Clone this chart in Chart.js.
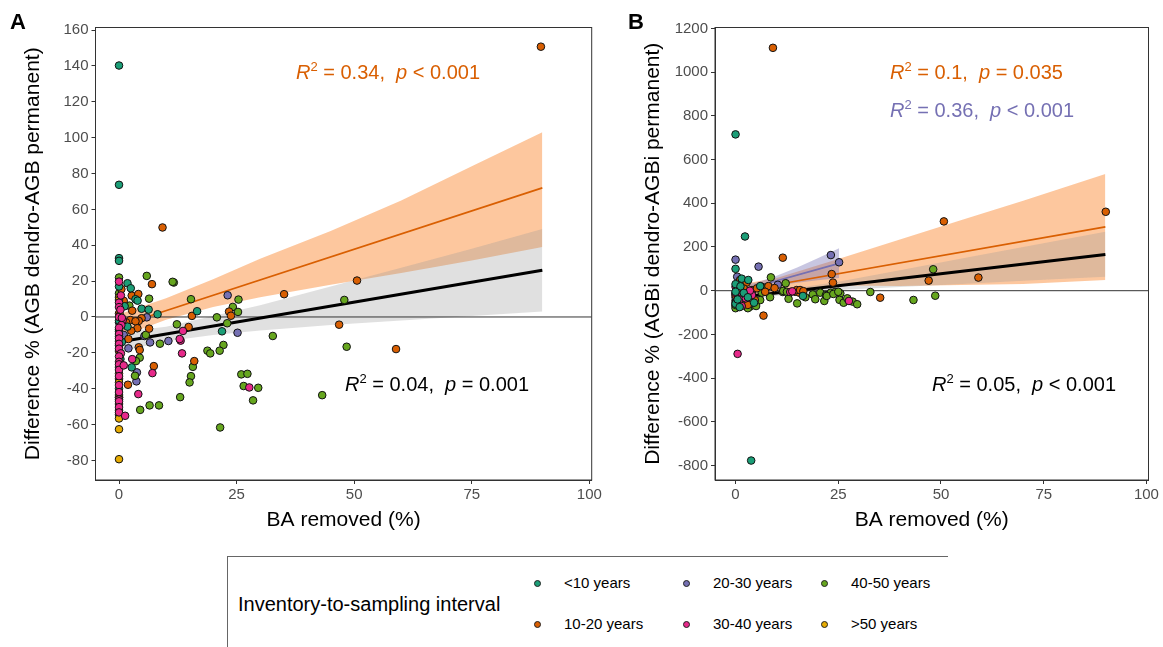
<!DOCTYPE html>
<html>
<head>
<meta charset="utf-8">
<script src="https://cdn.jsdelivr.net/npm/chart.js@4.4.1/dist/chart.umd.min.js"></script>
<style>
  body { margin: 0; background: #fff; width: 1163px; height: 647px; position: relative; overflow: hidden;
         font-family: "Liberation Sans", Arial, sans-serif; }
  canvas { position: absolute; top: 0; }
  .lbl { position: absolute; white-space: nowrap; font-size: 20px; line-height: 24px; }
  .lbl sup { font-size: 13px; vertical-align: 0; position: relative; top: -8px; }
  .tag { position: absolute; font-weight: bold; font-size: 22px; line-height: 22px; }
  #legend { position: absolute; left: 227px; top: 556px; width: 720px; height: 100px;
            border-top: 1px solid #666; border-left: 1px solid #666; }
  #legend .title { position: absolute; left: 10px; top: 35px; font-size: 20px; line-height: 24px; white-space: nowrap; }
  #legend .item { position: absolute; font-size: 15px; line-height: 18px; white-space: nowrap; }
  #legend .dot { position: absolute; width: 5px; height: 5px; border-radius: 50%; border: 1px solid #222; }
</style>
</head>
<body>
<canvas id="cA" width="620" height="545" style="left:0"></canvas>
<canvas id="cB" width="543" height="545" style="left:620px"></canvas>

<div class="tag" style="left:10px;top:11px">A</div>
<div class="tag" style="left:628px;top:11px">B</div>

<div class="lbl" style="left:296px;top:60px;color:#D95F02"><i>R</i><sup>2</sup> = 0.34,&nbsp; <i>p</i> &lt; 0.001</div>
<div class="lbl" style="left:345px;top:372px;color:#000"><i>R</i><sup>2</sup> = 0.04,&nbsp; <i>p</i> = 0.001</div>
<div class="lbl" style="left:890px;top:60px;color:#D95F02"><i>R</i><sup>2</sup> = 0.1,&nbsp; <i>p</i> = 0.035</div>
<div class="lbl" style="left:890px;top:98px;color:#7570B3"><i>R</i><sup>2</sup> = 0.36,&nbsp; <i>p</i> &lt; 0.001</div>
<div class="lbl" style="left:932px;top:372px;color:#000"><i>R</i><sup>2</sup> = 0.05,&nbsp; <i>p</i> &lt; 0.001</div>

<div id="legend"><div class="title">Inventory-to-sampling interval</div></div>

<script>
/* categories */
const groups = ["<10 years", "10-20 years", "20-30 years", "30-40 years", "40-50 years", ">50 years"];
const groupColors = ["#1B9E77", "#D95F02", "#7570B3", "#E7298A", "#66A61E", "#E6AB02"];

/* axes */
const xTicks = [0, 25, 50, 75, 100];
const yTicksA = [-80, -60, -40, -20, 0, 20, 40, 60, 80, 100, 120, 140, 160];
const yTicksB = [-800, -600, -400, -200, 0, 200, 400, 600, 800, 1000, 1200];
const X_MIN = -5, X_MAX = 100.5;

/* panel A points: [BA removed, difference %] */
const aLt10 = [[0,140.2],[0,73.7],[0,32.8],[0,31.3],[1.8,18.8],[2.5,16],[0,17],[3.5,9.9],[3.95,9.1],[4.8,4.6],
  [6.3,4.1],[8.2,1.5],[16.6,3.2],[21.9,-8],[1.8,-5.4],[0,-2],[0,-8],[0,-11],[0.3,-23.5],[2.7,-28.1],[0,-40],[1.2,6],[0.6,-14]];
const a10to20 = [[9.25,49.9],[7,18.3],[35.1,12.7],[23.4,3],[23.8,0.7],[15.5,0.6],[14.8,-5.6],[16,-24.6],[7.4,-27.4],
  [50.6,20.3],[46.8,-4.3],[58.9,-17.9],[89.7,150.7],[0.5,15.5],[2.7,11.9],[4.1,12.8],[2.8,3.5],[4.8,-0.7],[4.2,-2.2],
  [2.4,-1.7],[3.5,-2.4],[3.9,-6.3],[2.6,-7.7],[6.4,-6.5],[2,-12.3],[4.2,-16.9],[4.4,-18.4],[1.9,-37.8],[0,2],[0,-7],
  [0,-19],[0,-34.5],[0,-48.5],[1,9],[1.5,-3]];
const a20to30 = [[23.1,12.1],[25.2,-8.8],[6.6,-14.2],[10.5,-13.4],[3.8,-30.9],[3.7,-35.9],[5.9,-0.2],[5.4,-10.6],
  [2,-17.5],[0,-3],[0,-16],[0,-28],[0,-44.7],[1,-10]];
const a30to40 = [[13.6,-7.8],[13.1,-13.2],[13.4,-20.3],[7.1,-31.3],[27.7,-39.3],[4.1,-43],[0,19.7],[0,8],[0,5.5],
  [0.3,4],[0,0],[0.8,-1.7],[0.5,-4.5],[0,-6],[0,-9.5],[0,-12],[0,-15],[0,-17.7],[0.4,-20.3],[0,-22],[0,-25],[0,-26.4],
  [0,-29.5],[0,-33],[2.8,-23.5],[0,-38],[0,-41.9],[0,-46],[0,-47],[0,-50.3],[0,-53.2],[1.3,-55.1],[0.6,-0.5],[0.4,12],
  [12.9,-12.3],[1,-27]];
const a40to50 = [[5.9,22.9],[11.65,19.2],[11.4,19.6],[6.4,10.2],[15.3,9.9],[25.4,9.7],[24.2,5.6],[25.3,2.8],[20.8,-0.2],
  [23,-3.5],[12.3,-4.1],[32.7,-10.6],[5.7,-10],[8.7,-14.9],[22.2,-15.6],[21.4,-18.8],[18.8,-18.8],[19.4,-20.3],[15.7,-27.8],
  [15.3,-33],[15,-36.5],[26,-32],[27.3,-31.7],[26.5,-38.5],[29.6,-39.5],[28.5,-46.5],[13,-44.7],[43.2,-43.6],[6.5,-49.3],
  [8.5,-49.3],[4.5,-51.8],[21.5,-61.6],[47.9,9.5],[48.4,-16.6],[0,22],[0,13.2],[2.2,6.3],[4.4,-22.7],[3.6,-24.6],
  [3.4,-32.8],[0,-13.5],[0,-43.5],[0,-54.5]];
const aGt50 = [[0,11],[0,9.5],[0,-31.5],[0,-36.5],[0,-52],[0,-56.6],[0,-62.6],[0,-79.3],[0.2,1],[0,-45]];

/* panel A fits */
const aAllLine = [[0,-14],[90,26]];
const a10to20Line = [[0,-5],[90,72]];
const aBandX = [0, 10, 20, 30, 45, 60, 75, 90];
const aAllLo = [-19.5, -13.5, -10, -7.5, -4.5, -2, 0.5, 3];
const aAllHi = [-8.5, -5.5, 0.5, 6.5, 17, 27.5, 38, 49];
const a10to20Lo = [-11.5, -1.5, 5.5, 11, 18, 24.5, 31.5, 39];
const a10to20Hi = [1.5, 10.5, 21, 32.5, 48, 65, 84, 103];

/* panel B points */
const bLt10 = [[0,715],[2.3,248],[0,100],[3.8,-777],[16.4,-24],[1.5,55],[3.1,49],[6,21],[0,-60],[0.5,-40],[1,-75],
  [2,-10],[3,-30],[0,30],[4.5,-55],[1.2,20],[0,-5]];
const b10to20 = [[9.1,1111],[11.5,151],[50.7,317],[90.1,361],[23.4,76],[23.7,37],[14.5,-5],[15.5,-9],[14.9,3],[15.7,3],
  [35.2,-32],[47,46],[59.1,60],[6.8,-114],[1.1,49],[2.7,37],[8,21],[9.5,12],[4,3],[5.2,11],[7.2,-5],[4.7,-43],[0,-20],
  [1.5,-50],[3,-65],[2,10],[0.5,-5],[16.5,-2]];
const b20to30 = [[0,142],[5.6,110],[23.2,163],[25.2,130],[10.3,27],[0.4,64],[0,-30],[2,-15],[0.5,20]];
const b30to40 = [[13.3,-6],[27.6,-47],[0.5,-289],[0,18],[0.5,-20],[4,-20],[1,-40],[0,-55],[2.5,-35],[13.8,-3],[0,-10],
  [1.5,-70],[3.5,0]];
const b40to50 = [[8.6,61],[12.2,34],[11.5,-6],[12.9,-37],[15,-58],[18.8,-17],[19.4,-39],[20.6,-9],[21.6,-47],[22,-20],
  [23.2,-9],[24.2,-6],[25.5,-12],[25.3,-42],[26.3,-55],[27.2,-35],[28.5,-50],[29.6,-62],[32.8,-6],[43.3,-42.5],[48.1,98],
  [48.6,-23],[6.4,18],[6.4,-9],[6,-43],[3.5,-73],[8.4,-30],[11.6,-1],[12.5,-5],[22.2,-24],[23.8,-15],[25,-5],[0,-80],
  [0,-65],[1,-25],[2,-55],[5,-70],[4,-5],[0,-45],[3,-80],[17,-30]];
const bGt50 = [[0,-15],[0.5,-50],[1,-30],[2,-60],[0,-70],[1.5,0]];

/* panel B fits */
const bAllLine = [[0,-32],[90,166]];
const b10to20Line = [[0,-5],[90,292]];
const b20to30Line = [[0,-7],[25.2,125]];
const bBandX = [0, 10, 25, 40, 55, 70, 90];
const bAllLo = [-47, -23, 3, 17, 31, 45, 64];
const bAllHi = [-17, -1, 41, 94, 147, 200, 270];
const b10to20Lo = [-35, -2, 24, 22, 26, 31, 49];
const b10to20Hi = [25, 58, 145, 234, 323, 412, 534];
const b20to30X = [0, 5, 10, 15, 20, 25.2];
const b20to30Lo = [-38, 2, 22, 36, 48, 58];
const b20to30Hi = [24, 36, 68, 106, 148, 194];

Chart.defaults.font.family = "'Liberation Sans', Arial, sans-serif";

const xy = (arr) => arr.map(([x, y]) => ({ x, y }));

function pts(arr, g) {
  return { data: xy(arr), showLine: false, pointRadius: 3.8, pointBackgroundColor: groupColors[g],
           pointBorderColor: "#111", pointBorderWidth: 1, order: 0 };
}
function fitLine(arr, color, w) {
  return { data: xy(arr), borderColor: color, borderWidth: w, pointRadius: 0, fill: false, order: 1 };
}
function band(xs, lo, hi, color, order) {
  return [
    { data: xs.map((x, i) => ({ x, y: lo[i] })), borderWidth: 0, pointRadius: 0, fill: false, order },
    { data: xs.map((x, i) => ({ x, y: hi[i] })), borderWidth: 0, pointRadius: 0, fill: "-1", backgroundColor: color, order }
  ];
}
const zeroLine = () => ({ data: [{ x: X_MIN, y: 0 }, { x: X_MAX, y: 0 }], borderColor: "#333", borderWidth: 1,
                          pointRadius: 0, fill: false, order: 2 });

/* full box round the panel */
const frame = {
  id: "frame",
  afterDraw(c) {
    const a = c.chartArea, ctx = c.ctx;
    ctx.save();
    ctx.strokeStyle = "#333";
    ctx.lineWidth = 1;
    ctx.strokeRect(a.left, a.top, a.right - a.left, a.bottom - a.top);
    ctx.restore();
  }
};

function panel(id, sets, yMin, yMax, yTicks, yTitle, padRight, yWidth) {
  const tickFont = { size: 15 };
  const titleFont = { size: 21 };
  return new Chart(document.getElementById(id), {
    type: "line",
    data: { datasets: sets },
    options: {
      responsive: false, animation: false, events: [],
      layout: { padding: { top: 27.5, right: padRight, left: 0, bottom: 0 } },
      plugins: { legend: { display: false }, tooltip: { enabled: false } },
      scales: {
        x: {
          type: "linear", min: X_MIN, max: X_MAX,
          afterBuildTicks: (s) => { s.ticks = xTicks.map((v) => ({ value: v })); },
          afterFit: (s) => { s.height = 65; },
          ticks: { color: "#4d4d4d", font: tickFont, padding: 2, autoSkip: false, maxRotation: 0, callback: (v) => String(v) },
          grid: { drawOnChartArea: false, tickLength: 4, color: "#333" },
          border: { color: "#333" },
          title: { display: true, text: "BA removed (%)", color: "#000", font: titleFont, padding: { top: 0, bottom: 12.4 } }
        },
        y: {
          type: "linear", min: yMin, max: yMax,
          afterBuildTicks: (s) => { s.ticks = yTicks.map((v) => ({ value: v })); },
          afterFit: (s) => { s.width = yWidth; },
          ticks: { color: "#4d4d4d", font: tickFont, padding: 3, autoSkip: false, callback: (v) => String(v) },
          grid: { drawOnChartArea: false, tickLength: 4, color: "#333" },
          border: { color: "#333" },
          title: { display: true, text: yTitle, color: "#000", font: titleFont, padding: { top: 20.4, bottom: 0 } }
        }
      }
    },
    plugins: [frame]
  });
}

const ORANGE_FILL = "rgba(250,130,40,0.45)";
const GREY_FILL = "rgba(153,153,153,0.3)";
const PURPLE_FILL = "rgba(117,112,179,0.4)";

panel("cA", [
  pts(a30to40, 3), pts(aGt50, 5), pts(aLt10, 0), pts(a10to20, 1), pts(a40to50, 4), pts(a20to30, 2),
  fitLine(aAllLine, "#000", 3), fitLine(a10to20Line, "#D95F02", 1.7),
  zeroLine(),
  ...band(aBandX, aAllLo, aAllHi, GREY_FILL, 4),
  ...band(aBandX, a10to20Lo, a10to20Hi, ORANGE_FILL, 5)
], -90.9, 161.4, yTicksA, "Difference % (AGB dendro-AGB permanent)", 620 - 591.7, 95.5);

panel("cB", [
  pts(bLt10, 0), pts(b30to40, 3), pts(b10to20, 1), pts(b20to30, 2), pts(b40to50, 4), pts(bGt50, 5),
  fitLine(bAllLine, "#000", 3), fitLine(b10to20Line, "#D95F02", 1.7), fitLine(b20to30Line, "#7570B3", 1.7),
  zeroLine(),
  ...band(b20to30X, b20to30Lo, b20to30Hi, PURPLE_FILL, 3),
  ...band(bBandX, bAllLo, bAllHi, GREY_FILL, 4),
  ...band(bBandX, b10to20Lo, b10to20Hi, ORANGE_FILL, 5)
], -866, 1204, yTicksB, "Difference % (AGBi dendro-AGBi permanent)", 543 - 528.5, 95);

/* legend keys */
const legend = document.getElementById("legend");
const keyPos = [[309, 26], [309, 67], [458, 26], [458, 67], [596, 26], [596, 67]];
groups.forEach((g, i) => {
  const [lx, ly] = keyPos[i];
  const dot = document.createElement("div");
  dot.className = "dot";
  dot.style.left = (lx - 3) + "px";
  dot.style.top = (ly - 3) + "px";
  dot.style.background = groupColors[i];
  legend.appendChild(dot);
  const t = document.createElement("div");
  t.className = "item";
  t.style.left = (lx + 27) + "px";
  t.style.top = (ly - 9) + "px";
  t.textContent = g;
  legend.appendChild(t);
});
</script>
</body>
</html>
